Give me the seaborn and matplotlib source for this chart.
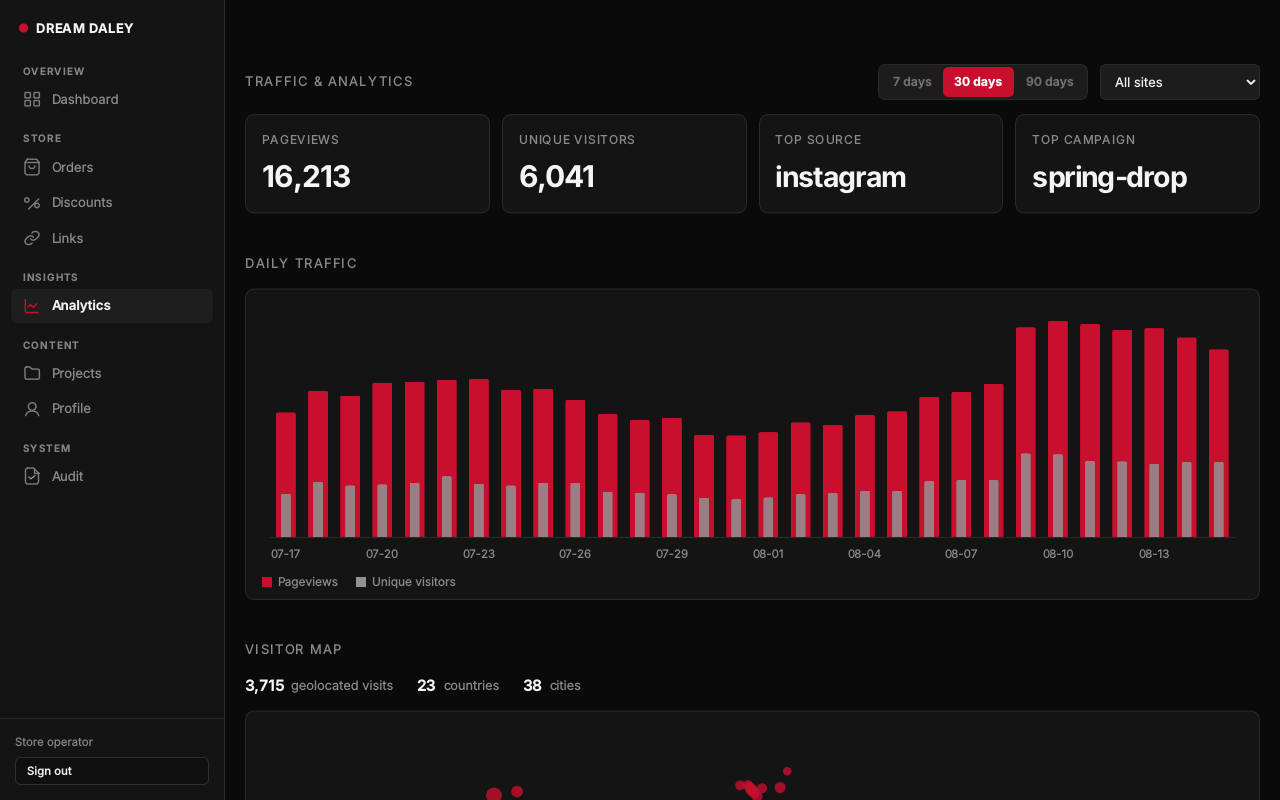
import numpy as np
import matplotlib
matplotlib.use("Agg")
import matplotlib.pyplot as plt
import seaborn as sns
from matplotlib.backends.backend_agg import RendererAgg, get_hinting_flag
from matplotlib.patches import FancyBboxPatch, Circle, Rectangle, Arc
from matplotlib.text import Text
from matplotlib.transforms import IdentityTransform

# ---------- data ----------
dates = ["07-17","07-18","07-19","07-20","07-21","07-22","07-23","07-24","07-25","07-26",
         "07-27","07-28","07-29","07-30","07-31","08-01","08-02","08-03","08-04","08-05",
         "08-06","08-07","08-08","08-09","08-10","08-11","08-12","08-13","08-14","08-15"]
pageviews = [449,528,510,557,560,568,571,531,535,495,444,422,430,368,366,
             378,413,405,440,453,506,523,553,757,780,769,748,754,720,677]
uniques = [155,199,185,189,195,219,192,185,195,195,163,159,154,141,136,
           142,154,158,166,166,201,205,206,301,298,274,272,264,270,270]
map_lon = [-91.7,-83.5,-4.4,-1.6,-0.2,-0.9,1.6,0.5,3.4,9.8,12.3]
map_lat = [47.0,48.4,50.6,50.7,48.9,49.8,46.8,48.0,49.6,49.8,55.6]
map_visits = [225,115,81,81,121,100,100,100,81,100,56]
kpi_labels = ["PAGEVIEWS","UNIQUE VISITORS","TOP SOURCE","TOP CAMPAIGN"]
kpi_values = ["16,213","6,041","instagram","spring-drop"]

RED="#c8102e"; BG="#0a0a0a"; PANEL="#141414"; LINE="#2a2a2a"; MUTED="#8a8a8a"; GREY="#929292"

sns.set_theme(style="dark")
plt.rcParams["font.family"]=["Inter","DejaVu Sans"]
plt.rcParams["text.hinting"]="none"
plt.rcParams["text.hinting_factor"]=1

# unhinted glyphs land on rows that depend on their overshoot: keep every baseline on one row
_draw_text=RendererAgg.draw_text
def _steady_draw_text(self,gc,x,y,s,prop,angle,ismath=False,mtext=None):
    if not ismath and angle==0:
        font=self._prepare_font(prop)
        font.set_text(s,0,flags=get_hinting_flag())
        w,h=font.get_width_height(); d=font.get_descent()
        b=int(h/64)+2-int((h-d)/64)-1
        y=round(y)+b-1-d/64.0
    return _draw_text(self,gc,x,y,s,prop,angle,ismath,mtext)
RendererAgg.draw_text=_steady_draw_text

fig=plt.figure(figsize=(12.8,8),dpi=100,facecolor=BG)

class Tracked(Text):
    """Text with letter-spacing; the artist keeps its full string."""
    tracking=0.0
    def draw(self,renderer):
        s=self.get_text(); x0=self.get_position()[0]
        prop=self.get_fontproperties()
        for i,c in enumerate(s):
            w=renderer.get_text_width_height_descent(s[:i],prop,False)[0] if i else 0
            Text.set_text(self,c); self.set_x(x0+w+i*self.tracking)
            Text.draw(self,renderer)
        Text.set_text(self,s); self.set_x(x0)
    def get_window_extent(self,renderer=None,dpi=None):
        b=Text.get_window_extent(self,renderer,dpi)
        b.x1=b.x1+self.tracking*(len(self.get_text())-1)
        return b

ui=fig.add_axes([0,0,1,1]); ui.set_xlim(0,1280); ui.set_ylim(800,0); ui.axis("off")

def px(v): return v*0.72
def T(x,yc,s,size,color=MUTED,weight="normal",ha="left",track=0):
    y=yc+0.364*size
    if track:
        t=Tracked(x,y,s,fontsize=px(size),color=color,fontweight=weight,ha="left",va="baseline")
        t.tracking=track
        ui.add_artist(t)
    else:
        ui.text(x,y,s,fontsize=px(size),color=color,fontweight=weight,ha=ha,va="baseline")
def RR(x0,y0,x1,y1,r,fc,ec="none",lw=1,z=1):
    ui.add_patch(FancyBboxPatch((x0,y0),x1-x0,y1-y0,boxstyle=f"round,pad=0,rounding_size={r}",
                                fc=fc,ec=ec,lw=px(lw),zorder=z))
def L(xs,ys,c="#808080",lw=1.4,z=3):
    ui.plot(xs,ys,color=c,lw=px(lw),solid_capstyle="round",solid_joinstyle="round",zorder=z)
IC="#7d7d7d"
def G(cx,cy,k,pts,c=IC,lw=1.4):
    """polyline given on a 24-unit icon grid"""
    L([cx+(p[0]-12)*k for p in pts],[cy+(p[1]-12)*k for p in pts],c,lw)

# ---------- sidebar ----------
ui.add_patch(Rectangle((0,0),224,800,fc=PANEL,ec="none"))
L([223.9,223.9],[0,800],LINE,1)
L([0,224],[717.9,717.9],LINE,1)
ui.add_patch(Circle((23.5,28),4.6,fc=RED,ec="none",zorder=3))
T(35.5,28,"DREAM DALEY",13,"#f5f5f5","bold",track=0.3)
for y,s in [(71,"OVERVIEW"),(138.5,"STORE"),(277,"INSIGHTS"),(345,"CONTENT"),(448,"SYSTEM")]:
    T(22.7,y,s,10,"#858585","semibold",track=1.05)
for y,s in [(99,"Dashboard"),(167,"Orders"),(202,"Discounts"),(238,"Links"),
            (373,"Projects"),(408,"Profile"),(476,"Audit")]:
    T(51.8,y,s,13.1,"#8c8c8c")
RR(11,289,213,323,7,"#1e1e1e")
T(51.8,305,"Analytics",13.3,"#f5f5f5","semibold")
def box(x0,y0,x1,y1,r,c=IC):
    RR(x0,y0,x1,y1,r,"none",c,1.4,3)
# dashboard
for a,b in [(25,92.5),(34,92.5),(25,100.5),(34,100.5)]:
    box(a,b,a+5.4,b+5.4,0.8)
# orders
k=0.78
G(32,167,k,[(6,2),(3,6),(3,20),(5,22),(19,22),(21,20),(21,6),(18,2),(6,2)])
G(32,167,k,[(3,6),(21,6)])
ui.add_patch(Arc((32,167-2*k),8*k,8*k,theta1=0,theta2=180,ec=IC,lw=px(1.4),zorder=3))
# discounts
ui.add_patch(Circle((26.8,200),2.2,fc="none",ec=IC,lw=px(1.4),zorder=3))
ui.add_patch(Circle((37,205.5),2.2,fc="none",ec=IC,lw=px(1.4),zorder=3))
L([28.5,38.7],[209,199])
# links
chain=[(10,13),(11.2,14.4),(13,15),(15,14.9),(17.54,13.54),(20.54,10.54),(21.9,8),(21.4,5.5),(20.1,4),(18,2.9),(15.5,3),(13.47,3.47),(11.75,5.18)]
G(32,238,0.72,chain)
G(32,238,0.72,[(24-a,24-b) for a,b in chain])
# analytics
G(31.8,306,0.72,[(3,3),(3,19),(3.6,20.4),(5,21),(21,21)],RED)
G(31.8,306,0.72,[(19,9),(14,14),(10,10),(7,13)],RED)
# projects
G(32.2,373.4,0.72,[(4,3),(7.93,3),(9.6,3.9),(10.4,5.1),(12.1,6),(20,6),(21.4,6.6),(22,8),(22,18),(21.4,19.4),(20,20),(4,20),(2.6,19.4),(2,18),(2,5),(2.6,3.6),(4,3)])
# profile
ui.add_patch(Circle((32.2,406.5),3.8,fc="none",ec=IC,lw=px(1.4),zorder=3))
ui.add_patch(Arc((32.2,416.2),13,10.5,theta1=180,theta2=360,ec=IC,lw=px(1.4),zorder=3))
# audit
L([27.3,33.5,38.5,38.5,37,27,25.5,25.5,27.3],[468,468,473,482,484,484,482.5,469.5,468],IC)
L([33.5,33.5,38.5],[468,473,473],IC)
L([28.8,31,35],[477,478.8,475.6],"#a0a0a0",1.2)
T(15,742,"Store operator",11.4,"#858585")
RR(15.5,757.5,208.5,784.5,6,"#0f0f0f","#303030",1,2)
T(27,771,"Sign out",11.4,"#f0f0f0","medium")

# ---------- header ----------
T(245,81.5,"TRAFFIC & ANALYTICS",13,MUTED,track=1.3)
RR(878.5,64.5,1087.5,99.5,8,"#1c1c1c",LINE,1)
RR(943,67,1014,97,6,RED,z=2)
T(912,82,"7 days",12.3,"#707070","semibold",ha="center")
T(978.5,82,"30 days",12.3,"#ffffff","bold",ha="center")
T(1049.5,82,"90 days",12.3,"#707070","semibold",ha="center")
RR(1100.5,64.5,1259.5,99.5,6,"#1c1c1c",LINE,1)
T(1115,82.5,"All sites",13,"#f0f0f0")
L([1247.5,1251,1254.5],[80.5,84,80.5],"#f0f0f0",1.9)

# ---------- KPI cards ----------
card_x=[(245.5,489.5),(502.5,746.5),(759.5,1002.5),(1015.5,1259.5)]
text_x=[261.4,518.2,774.8,1031.8]
value_x=[262,518.7,774.4,1032]
value_style=[(30,-1.0),(30,-1.7),(28.5,-1.05),(28.5,-1.2)]
for (a,b),tx,vx,lab,val,(vs,vt) in zip(card_x,text_x,value_x,kpi_labels,kpi_values,value_style):
    RR(a,114.5,b,213,10,PANEL,LINE,1)
    T(tx,140,lab,12,MUTED,track=0.85)
    T(vx,176.5,val,vs,"#f5f5f5","bold",track=vt)

# ---------- daily traffic ----------
T(245,263.5,"DAILY TRAFFIC",13,MUTED,track=1.25)
RR(245.5,289,1259.5,599.5,10,PANEL,LINE,1)

ax=fig.add_axes([269.8/1280,(800-536.6)/800,965/1280,237/800],facecolor="none")
sns.barplot(x=dates,y=pageviews,color=RED,saturation=1,width=0.62,ax=ax,label="Pageviews",linewidth=0,zorder=2)
sns.barplot(x=dates,y=uniques,color=GREY,saturation=1,width=0.31,ax=ax,label="Unique visitors",linewidth=0,alpha=0.86,zorder=3)
ax.set_xlim(-0.5,29.5); ax.set_ylim(0,857)
ax.set_xticks(range(0,30,3)); ax.set_xticklabels(dates[::3])
ax.tick_params(axis="x",length=0,pad=9.2,labelsize=px(11.5),labelcolor=MUTED)
ax.tick_params(axis="y",left=False,labelleft=False)
ax.set_xlabel(""); ax.set_ylabel(""); ax.grid(False)
for k_ in ["top","left","right"]: ax.spines[k_].set_visible(False)
ax.spines["bottom"].set_color(LINE); ax.spines["bottom"].set_linewidth(px(1.2))
fig.canvas.draw()
for p in ax.patches:
    (x0,y0),(x1,y1)=ax.transData.transform([(p.get_x(),0),(p.get_x()+p.get_width(),p.get_height())])
    p.set_clip_path(FancyBboxPatch((x0,y0-5),x1-x0,y1-y0+5,boxstyle="round,pad=0,rounding_size=2",transform=IdentityTransform()))
leg=ax.legend(loc="lower left",bbox_to_anchor=(262/1280,(800-588.5)/800),bbox_transform=fig.transFigure,
              ncol=2,frameon=False,fontsize=px(11.9),labelcolor=MUTED,borderpad=0,borderaxespad=0,
              handlelength=0.84,handleheight=0.84,handletextpad=0.46,columnspacing=1.5)
for h in leg.legend_handles:
    h.set_alpha(1)

# ---------- visitor map ----------
T(245,649.5,"VISITOR MAP",13,MUTED,track=1.3)
for x,s,w in [(244.3,"3,715",True),(291,"geolocated visits",False),(416.4,"23",True),(443,"countries",False),
              (522.2,"38",True),(549,"cities",False)]:
    if w: T(x,685,s,15.5,"#f5f5f5","bold")
    else: T(x,685.5,s,12.8,MUTED)
RR(245.5,711,1259.5,830,10,PANEL,LINE,1)
mp=fig.add_axes([245/1280,0,1015/1280,89/800],facecolor="none")
sns.scatterplot(x=map_lon,y=map_lat,size=map_visits,sizes=(38,130),color=RED,alpha=0.78,linewidth=0,legend=False,ax=mp)
mp.set_xlim(-180,180); mp.set_ylim(45.4,77); mp.axis("off")

fig.savefig("out.png",dpi=100,facecolor=BG)
